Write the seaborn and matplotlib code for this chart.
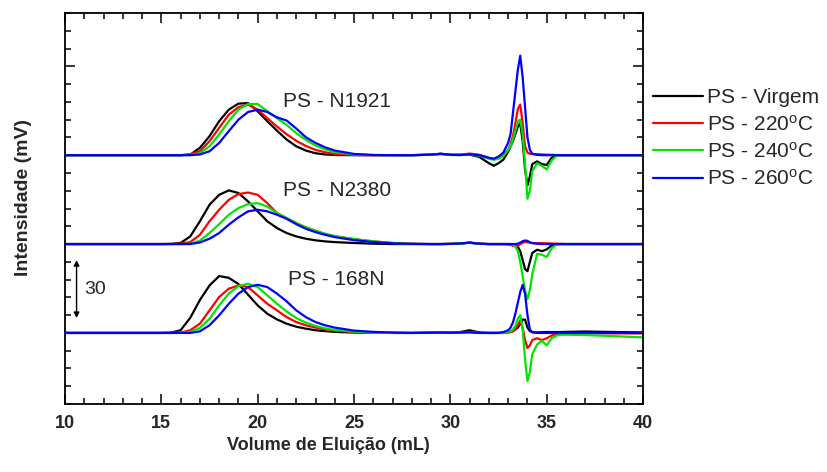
import pandas as pd
import seaborn as sns
import matplotlib.pyplot as plt
from matplotlib.ticker import MultipleLocator, FixedLocator, NullFormatter

# volume de eluição (mL) - grade comum a todas as curvas
volume = [10, 14, 15, 15.5, 16, 16.5, 17, 17.5, 18, 18.5, 19, 19.5, 20, 20.5,
          21, 21.5, 22, 22.5, 23, 23.5, 24, 25, 26, 27,
          28, 29, 29.5, 30, 30.5, 31, 31.5, 32, 32.25, 32.5, 32.75, 33,
          33.125, 33.25, 33.375, 33.5, 33.625, 33.75, 33.875, 34, 34.125,
          34.25, 34.5, 34.75, 35, 35.25, 35.5, 35.75, 36, 37, 38, 40]

amostras = ['PS - N1921', 'PS - N2380', 'PS - 168N']
deslocamento = [100, 50, 0]
tratamentos = ['PS - Virgem', r'PS - 220$^\mathrm{o}$C',
               r'PS - 240$^\mathrm{o}$C', r'PS - 260$^\mathrm{o}$C']
cores = ['#000000', '#ff0000', '#00e600', '#0000ff']

# PS - N1921
n1921_virgem = [0, 0, 0, 0, 0, 0.3, 4.1, 10.7, 19.1, 25.6, 29, 29.3, 24.7, 19.1,
                13.8, 8.8, 5, 2.6, 1.1, 0.4, 0.1, 0, 0, 0,
                0, 0.3, 0.8, 0.2, 0.1, 0.3, -1, -4.5, -6, -4.5, -2.5, 2,
                5, 8, 12, 16, 18, 8, -8, -17, -12,
                -5, -3.5, -5, -5.5, -1.5, 0, 0, 0, 0, 0, 0]
n1921_220 = [0, 0, 0, 0, 0, 0.5, 2.2, 7.9, 15.4, 22.8, 27, 28.5, 25.6, 20.8,
             16.1, 11.8, 8.1, 5.2, 3, 1.6, 0.7, 0.1, 0, 0,
             0, 0.3, 0.7, 0.2, 0.3, 0.9, 0.2, -1.5, -2.2, -1, 0.5, 3,
             6, 11, 18, 26, 28.5, 18, 5, 1.5, 0.8,
             0.6, 0.5, 0.4, 0.3, 0.2, 0.1, 0, 0, 0, 0, 0]
n1921_240 = [0, 0, 0, 0, 0, 0.1, 1.1, 5, 11.6, 19.1, 25.6, 28.8, 28.8, 24.7,
             20.8, 17.1, 12.4, 8.6, 5.4, 3.2, 1.7, 0.5, 0.1, 0,
             0, 0.2, 0.6, 0.1, 0.1, 0.4, -0.3, -2, -2.6, -2, -0.5, 3,
             5, 9, 14, 19, 20, 12, -5, -24.5, -20,
             -9, -4.5, -6, -8, -3, -0.5, 0, 0, 0, 0, 0]
n1921_260 = [0, 0, 0, 0, 0, 0, 0.4, 2.2, 6.9, 13.5, 20, 24.3, 25.6, 24.3,
             21.3, 19.5, 15, 10.1, 6.9, 4.4, 2.6, 0.7, 0.1, 0,
             0, 0.3, 0.8, 0.2, 0.1, 0.5, 0, -1.5, -2, -0.8, 1.5, 7,
             12, 24, 36, 48, 56, 44, 27, 10, 3,
             0.8, 0.2, 0, 0, 0, 0, 0, 0, 0, 0, 0]

# PS - N2380
n2380_virgem = [0, 0, 0, 0.1, 0.6, 4.3, 12.8, 22.1, 27.7, 30.2, 28.7, 24, 18.4, 12.8,
                9, 6.2, 4.3, 3, 2.1, 1.5, 1.1, 0.6, 0.2, 0,
                0, 0, 0, 0.1, 0.3, 0.8, 0.2, 0, 0, 0, 0, 0,
                0, -0.2, -0.5, -1.5, -4, -9, -14, -15.3, -10,
                -5, -3.2, -4, -3, -0.8, 0, 0, 0, 0, 0, 0]
n2380_220 = [0, 0, 0, 0, 0.2, 1.1, 5.2, 12.8, 19.3, 24.9, 28.1, 29, 27.7, 23,
             17.4, 14.6, 11.8, 9.4, 7.5, 5.6, 4.3, 2.8, 1.5, 0.6,
             0.2, 0, 0, 0.1, 0.3, 0.8, 0.2, 0, 0, 0, 0, -0.2,
             -0.5, -1, -1.3, -1, 0, 0.8, 1.2, 1, 0.8,
             0.6, 0.5, 0.5, 0.4, 0.3, 0.2, 0.1, 0, 0, 0, 0]
n2380_240 = [0, 0, 0, 0, 0, 0.2, 1.9, 6.2, 11.2, 16.5, 20.2, 22.5, 23, 21.1,
             17.4, 14.6, 11.8, 9.4, 7.5, 5.8, 4.5, 2.8, 1.5, 0.6,
             0.1, 0, 0, 0.1, 0.3, 0.7, 0.1, 0, 0, 0, 0, 0,
             0, -0.5, -1.5, -4, -10, -18, -26, -31, -26,
             -17, -5.5, -6, -7.3, -2.5, -0.3, 0, 0, 0, 0, 0]
n2380_260 = [0, 0, 0, 0, 0, 0, 0.9, 3, 6.2, 10.9, 15, 18.4, 19.3, 18.4,
             16.5, 14.2, 11.2, 8.6, 6.7, 5.2, 3.9, 2.2, 1.1, 0.4,
             0.1, 0, 0, 0.1, 0.3, 0.8, 0.2, 0, 0, 0, 0, 0,
             0, 0, 0, 0.2, 0.8, 1.6, 2, 1.8, 1,
             0.5, 0.2, 0, 0, 0, 0, 0, 0, 0, 0, 0]

# PS - 168N
n168_virgem = [0, 0, 0, 0.2, 1.5, 8.5, 18.5, 26.7, 32, 31, 27.5, 21.5, 15.5, 10.8,
               7.6, 5.2, 3.5, 2.4, 1.5, 1, 0.6, 0.2, 0.1, 0,
               0, 0.2, 0.3, 0.2, 0.5, 1.5, 0.3, 0, 0, 0, 0, 0.3,
               0.5, 1, 2, 3, 5, 7.5, 7.5, 3, 1,
               0.5, 0.3, 0.4, 0.5, 0.5, 0.5, 0.5, 0.6, 0.8, 0.6, 0.3]
n168_220 = [0, 0, 0, 0, 0.2, 1.5, 5.2, 12.7, 20.2, 24.9, 26.7, 25.8, 21.1, 16.4,
            12.7, 8.9, 6.1, 4.3, 3, 2, 1.3, 0.6, 0.2, 0,
            0, 0.1, 0.2, 0.1, 0.2, 0.5, 0.1, 0, 0, 0, 0, 0.3,
            0.5, 1, 2, 4.5, 7, 3, -4, -8.5, -7,
            -4, -3, -4, -3, -1.5, -0.8, -0.5, -0.3, -0.2, -0.2, -0.3]
n168_240 = [0, 0, 0, 0, 0, 0.6, 2.8, 8, 15.5, 22.1, 26.4, 27.7, 25.8, 21.1,
            16.4, 12.1, 8.4, 5.8, 3.9, 2.6, 1.7, 0.7, 0.2, 0,
            0, 0, 0.1, 0.1, 0.2, 0.3, 0, 0, 0, 0, 0, 0.5,
            1, 2, 4, 8, 10, 2, -15, -27, -22,
            -12, -6.5, -4.5, -7, -3, -1.5, -1, -1, -1.2, -1.6, -2.5]
n168_260 = [0, 0, 0, 0, 0, 0, 0.9, 4.3, 9.9, 16.4, 22.1, 25.8, 27.1, 25.8,
            22.1, 17.8, 12.7, 8.9, 6.1, 4.3, 3, 1.3, 0.6, 0.2,
            0, 0.1, 0.2, 0.1, 0.2, 0.4, 0, 0, 0, 0, 0.5, 1.5,
            3, 6, 11, 17, 23, 27, 22, 10, 2,
            0.3, 0, 0, 0, 0, 0, 0, 0, 0, 0, 0]

curvas = [
    [n1921_virgem, n1921_220, n1921_240, n1921_260],
    [n2380_virgem, n2380_220, n2380_240, n2380_260],
    [n168_virgem, n168_220, n168_240, n168_260],
]

linhas = []
for amostra, desl, grupo in zip(amostras, deslocamento, curvas):
    for trat, sinal in zip(tratamentos, grupo):
        for v, s in zip(volume, sinal):
            linhas.append({'volume': v, 'sinal': s + desl,
                           'amostra': amostra, 'tratamento': trat})
df = pd.DataFrame(linhas)

sns.set_style('ticks')
plt.rcParams['font.family'] = ['Liberation Sans', 'DejaVu Sans']
plt.rcParams['mathtext.fontset'] = 'custom'
plt.rcParams['mathtext.rm'] = 'Liberation Sans'
plt.rcParams['mathtext.it'] = 'Liberation Sans:italic'

fig = plt.figure(figsize=(8.27, 4.72), dpi=100)
ax = fig.add_axes([0.0786, 0.144, 0.699, 0.8285])

sns.lineplot(data=df, x='volume', y='sinal', hue='tratamento', units='amostra',
             estimator=None, sort=False, palette=cores, linewidth=1.6, ax=ax)

ax.set_xlim(10, 40)
ax.set_ylim(-40, 180)

# eixos
ax.xaxis.set_major_locator(MultipleLocator(5))
ax.xaxis.set_minor_locator(MultipleLocator(1))
ax.yaxis.set_major_locator(FixedLocator([150]))
ax.yaxis.set_minor_locator(MultipleLocator(10))
ax.yaxis.set_major_formatter(NullFormatter())
ax.tick_params(which='both', direction='in', top=True, right=True, width=1.1,
               color='black')
ax.tick_params(which='major', length=7, pad=8)
ax.tick_params(which='minor', length=4)
for lab in ax.get_xticklabels():
    lab.set_fontweight('bold')
    lab.set_fontsize(13)
for sp in ax.spines.values():
    sp.set_linewidth(1.3)
    sp.set_color('black')

ax.set_xlabel('Volume de Eluição (mL)', fontsize=13, fontweight='bold')
ax.set_ylabel('Intensidade (mV)', fontsize=14, fontweight='bold')
ax.xaxis.set_label_coords(0.455, -0.085)
ax.yaxis.set_label_coords(-0.057, 0.527)

# nomes das amostras
for amostra, desl in zip(amostras, deslocamento):
    ax.text(24.1, desl + 30, amostra, fontsize=15, ha='center', va='center')

# barra de escala
ax.annotate('', xy=(10.6, 41), xytext=(10.6, 8.4),
            arrowprops=dict(arrowstyle='<|-|>', color='black', lw=1,
                            mutation_scale=8, shrinkA=0, shrinkB=0))
ax.text(11.0, 24.2, '30', fontsize=14, ha='left', va='center')

ax.legend(loc='upper left', bbox_to_anchor=(653 / 827, 1 - 88 / 472),
          bbox_transform=fig.transFigure, frameon=False, fontsize=15,
          handlelength=2.4, handletextpad=0.2, labelspacing=0.35,
          borderpad=0, borderaxespad=0)

fig.savefig('out.png', dpi=100)
